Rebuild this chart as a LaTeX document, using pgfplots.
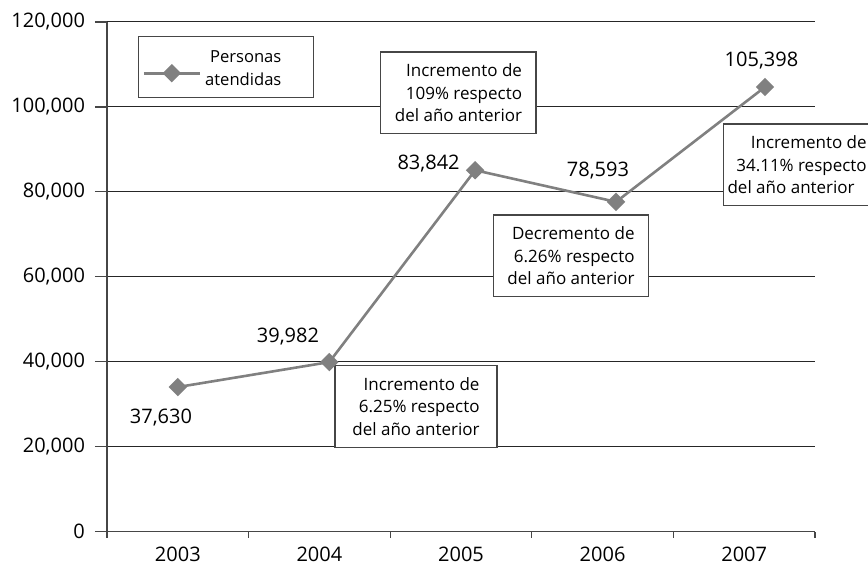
\documentclass[border=0pt]{standalone}
\usepackage{fontspec}
\setmainfont{Open Sans}
\usepackage{pgfplots}
\pgfplotsset{compat=1.18}
\definecolor{ser}{RGB}{128,128,128}
\definecolor{frame}{RGB}{70,70,70}
\begin{document}
\fontsize{8.5}{11.3}\selectfont
\begin{tikzpicture}[font=\fontsize{8.5}{11.3}\selectfont]
\begin{axis}[
  scale only axis, width=354pt, height=254.85pt,
  xmin=0, xmax=5, ymin=0, ymax=120000,
  clip=false,
  axis x line=bottom, axis y line=left,
  axis line style={-, draw=frame, line width=0.6pt},
  xtick={0.5,1.5,2.5,3.5,4.5},
  xticklabels={2003,2004,2005,2006,2007},
  minor xtick={0,1,2,3,4,5},
  tick align=outside,
  major tick length=6pt,
  minor tick length=3pt,
  x tick style={draw=none},
  minor x tick style={draw=frame, line width=0.6pt},
  y tick style={draw=frame, line width=0.6pt},
  ytick={0,20000,40000,60000,80000,100000,120000},
  yticklabels={0,{20,000},{40,000},{60,000},{80,000},{100,000},{120,000}},
  scaled y ticks=false,
  ymajorgrids,
  grid style={draw=black!85, line width=0.5pt},
  tick label style={font=\fontsize{10}{12}\selectfont},
  x tick label style={inner ysep=0.8pt, yshift=-0.5pt},
  y tick label style={xshift=-2pt},
  legend style={at={(0.0438,0.972)}, anchor=north west, draw=frame, line width=0.5pt,
    inner xsep=2pt, inner ysep=3pt, fill=white, cells={align=right},
    font=\fontsize{8.3}{11.3}\selectfont},
  legend cell align=right,
  legend image code/.code={\draw[mark repeat=2,mark phase=2,#1] plot coordinates {(0pt,-3pt) (14pt,-3pt) (28pt,-3pt)};},
]
\addplot[color=ser, line width=1.3pt, mark=square*, mark size=2.6pt, mark options={rotate=45, fill=ser, draw=ser}]
  coordinates {(0.50,34050) (1.57,39930) (2.60,85100) (3.595,77650) (4.647,104700)};
\addlegendentry{\begin{tabular}[b]{@{}r@{\hspace{12pt}}}Personas\\atendidas\end{tabular}}

\tikzset{vl/.style={anchor=base, font=\fontsize{10}{12}\selectfont}}
\node[vl] at (axis cs:0.381,25580) {37,630};
\node[vl] at (axis cs:1.278,44640) {39,982};
\node[vl] at (axis cs:2.271,85270) {83,842};
\node[vl] at (axis cs:3.467,83530) {78,593};
\node[vl] at (axis cs:4.622,109410) {105,398};

\tikzset{bx/.style={draw=frame, line width=0.6pt, fill=white, align=right, inner xsep=7pt, inner ysep=5.8pt}}
\node[bx, minimum width=81pt] at (axis cs:2.182,29460) {Incremento de\\6.25\% respecto\\del año anterior};
\node[bx] at (axis cs:2.482,103350) {Incremento de\\109\% respecto\\del año anterior};
\node[bx] at (axis cs:3.277,64990) {Decremento de\\6.26\% respecto\\del año anterior};
\node[bx, anchor=west, inner xsep=2pt] at (axis cs:4.350,86400) {Incremento de\\34.11\% respecto\\del año anterior\hspace*{6pt}};

\coordinate (BL) at (rel axis cs:0,0);
\coordinate (TR) at (rel axis cs:1,1);
\end{axis}
\pgfresetboundingbox
\path[use as bounding box] ([xshift=-53.5pt,yshift=-16.6pt]BL) rectangle ([xshift=26.5pt,yshift=11pt]TR);
\end{tikzpicture}
\end{document}
